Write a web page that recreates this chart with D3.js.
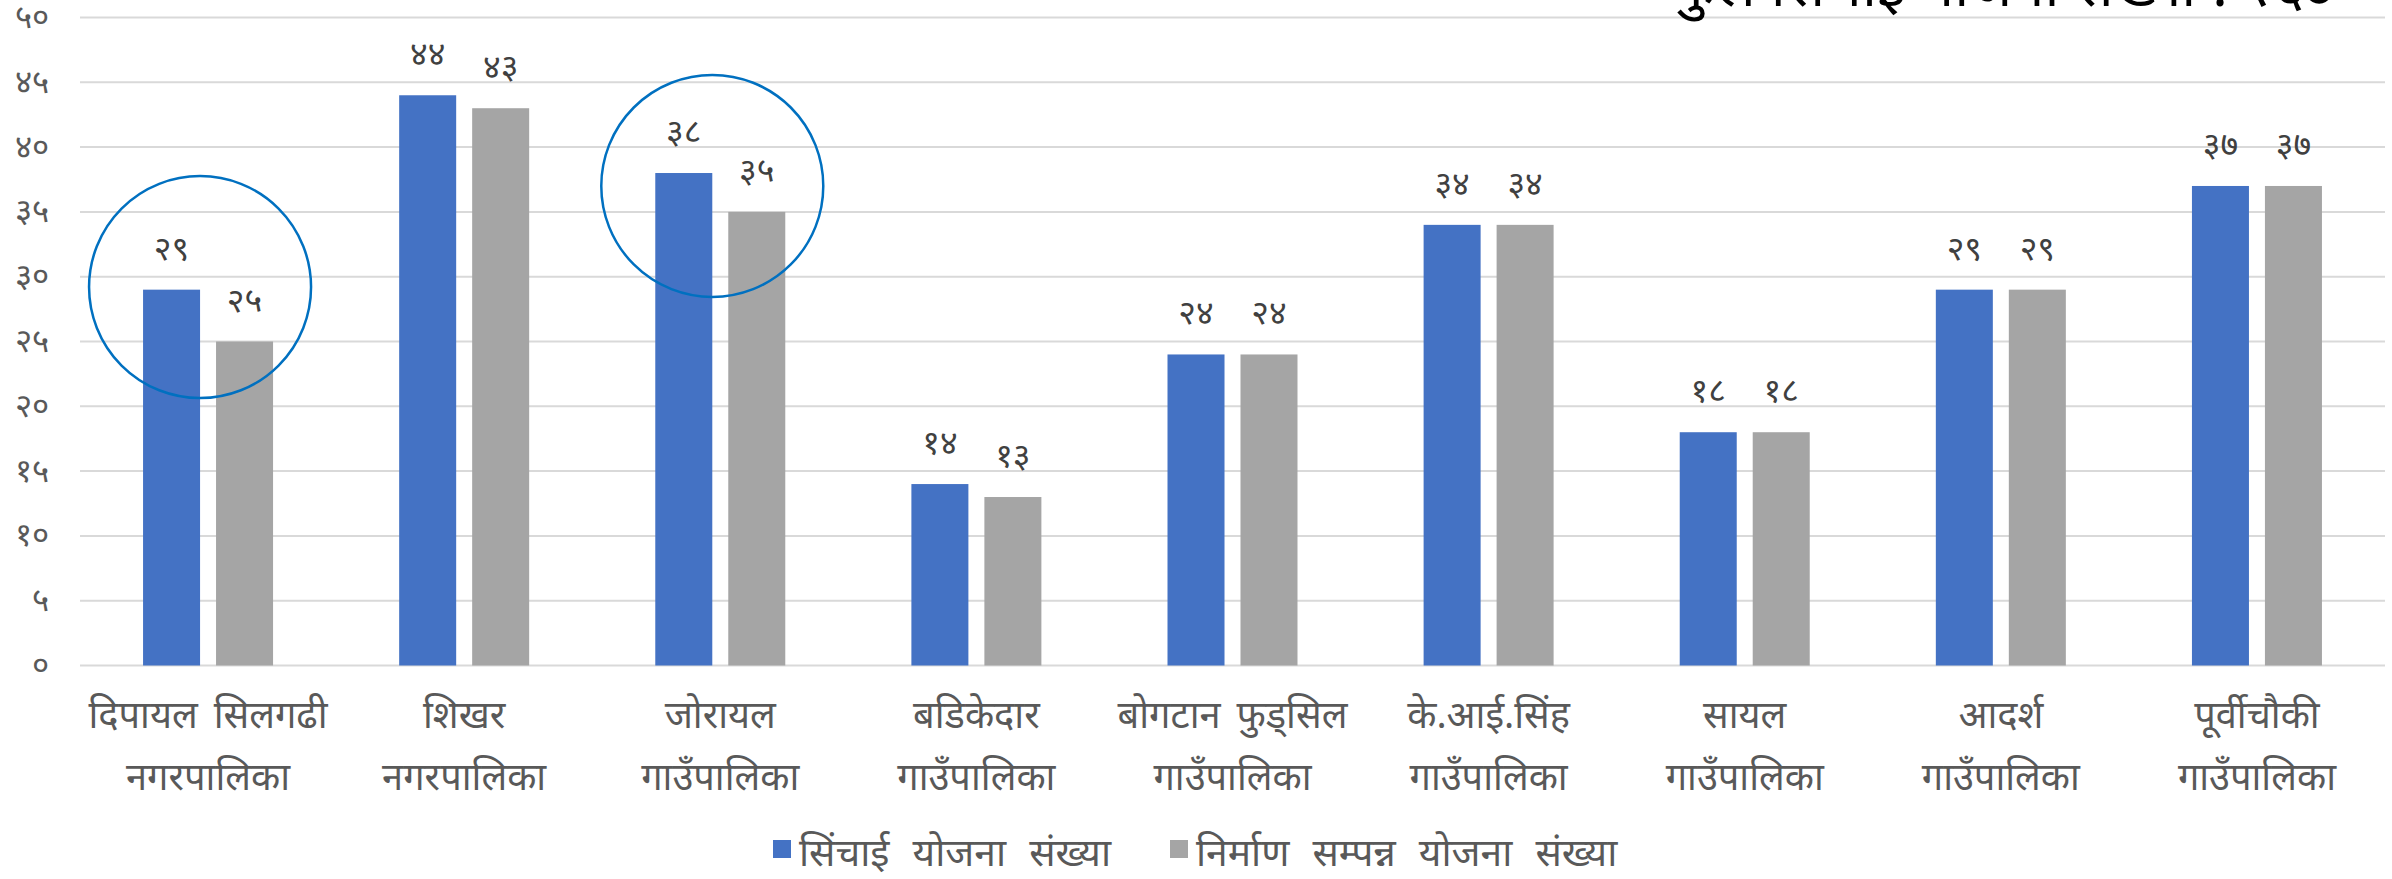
<!DOCTYPE html>
<html>
<head>
<meta charset="utf-8">
<script src="https://cdn.jsdelivr.net/npm/d3@7"></script>
<style>
  html, body { margin: 0; padding: 0; background: #fff; }
  svg { display: block; font-family: "Noto Sans Devanagari", "Noto Sans", "Lohit Devanagari", sans-serif; }
</style>
</head>
<body>
<svg id="chart" width="2392" height="879"></svg>
<script>
// ---- data ----
const categories = [
  ["दिपायल सिलगढी", "नगरपालिका"],
  ["शिखर", "नगरपालिका"],
  ["जोरायल", "गाउँपालिका"],
  ["बडिकेदार", "गाउँपालिका"],
  ["बोगटान फुड्सिल", "गाउँपालिका"],
  ["के.आई.सिंह", "गाउँपालिका"],
  ["सायल", "गाउँपालिका"],
  ["आदर्श", "गाउँपालिका"],
  ["पूर्वीचौकी", "गाउँपालिका"]
];
const seriesNames = ["सिंचाई योजना संख्या", "निर्माण सम्पन्न योजना संख्या"];
const irrigation = [29, 44, 38, 14, 24, 34, 18, 29, 37];
const completed  = [25, 43, 35, 13, 24, 34, 18, 29, 37];
const yTicks = [0, 5, 10, 15, 20, 25, 30, 35, 40, 45, 50];
const seriesColors = ["#4472C4", "#A5A5A5"];
// highlighted groups (category index, centre value)
const highlightIdx = [0, 2];
const highlightVal = [29.2, 37];
const titleText = "कुल सिंचाई योजना संख्या : २६७";

// ---- helpers ----
const devDigits = "०१२३४५६७८९";
const toDev = n => String(n).replace(/[0-9]/g, d => devDigits[+d]);

const svg = d3.select("#chart");
const margin = { left: 80, right: 7, top: 17.5, bottom: 879 - 665.5 };
const W = 2392, H = 879;

const x = d3.scaleBand()
  .domain(d3.range(categories.length))
  .range([margin.left, W - margin.right])
  .padding(0);

const sub = d3.scaleBand()
  .domain([0, 1])
  .range([-65, 65])
  .paddingInner(0.219)
  .paddingOuter(0);

const y = d3.scaleLinear().domain([0, 50]).range([H - margin.bottom, margin.top]);

// gridlines
svg.append("g")
  .selectAll("line")
  .data(yTicks)
  .join("line")
  .attr("x1", margin.left)
  .attr("x2", W - margin.right)
  .attr("y1", d => y(d))
  .attr("y2", d => y(d))
  .attr("stroke", "#d9d9d9")
  .attr("stroke-width", 2);

// y axis labels
const yAxis = d3.axisLeft(y).tickValues(yTicks).tickFormat(toDev).tickSize(0).tickPadding(0);
const yg = svg.append("g").attr("transform", `translate(49,0)`).call(yAxis);
yg.select(".domain").remove();
yg.selectAll("text")
  .attr("fill", "#595959")
  .style("font-size", "33px")
  .attr("dy", "0.3em");

// bars
const seriesData = [irrigation, completed];
seriesData.forEach((vals, s) => {
  svg.append("g").selectAll("rect")
    .data(vals)
    .join("rect")
    .attr("x", (d, i) => x(i) + x.bandwidth() / 2 + sub(s))
    .attr("y", d => y(d))
    .attr("width", sub.bandwidth())
    .attr("height", d => y(0) - y(d))
    .attr("fill", seriesColors[s]);

  svg.append("g").selectAll("text")
    .data(vals)
    .join("text")
    .attr("x", (d, i) => x(i) + x.bandwidth() / 2 + sub(s) + sub.bandwidth() / 2)
    .attr("y", d => y(d) - 30)
    .attr("text-anchor", "middle")
    .attr("fill", "#404040")
    .style("font-size", "34px")
    .text(d => toDev(d));
});

// x axis labels
const xl = svg.append("g");
categories.forEach((lines, i) => {
  const t = xl.append("text")
    .attr("x", x(i) + x.bandwidth() / 2)
    .attr("text-anchor", "middle")
    .attr("fill", "#595959")
    .style("font-size", "38px")
    .style("word-spacing", "6px");
  lines.forEach((ln, k) => {
    t.append("tspan")
      .attr("x", x(i) + x.bandwidth() / 2)
      .attr("y", 728 + k * 62)
      .text(ln);
  });
});

// highlight circles
svg.append("g").selectAll("circle")
  .data(highlightIdx)
  .join("circle")
  .attr("cx", (d, k) => x(d) + x.bandwidth() / 2 - 8)
  .attr("cy", (d, k) => y(highlightVal[k]))
  .attr("r", 111)
  .attr("fill", "none")
  .attr("stroke", "#0070C0")
  .attr("stroke-width", 2.5);

// legend
const legendX = [773, 1170];
const lg = svg.append("g");
seriesNames.forEach((nm, s) => {
  lg.append("rect")
    .attr("x", legendX[s])
    .attr("y", 840)
    .attr("width", 18)
    .attr("height", 18)
    .attr("fill", seriesColors[s]);
  lg.append("text")
    .attr("x", legendX[s] + 26)
    .attr("y", 866)
    .attr("fill", "#595959")
    .style("font-size", "39px")
    .style("word-spacing", "13px")
    .text(nm);
});

// title (mostly cropped at top)
svg.append("text")
  .attr("x", 2334)
  .attr("y", 6)
  .attr("text-anchor", "end")
  .attr("fill", "#000")
  .style("font-size", "58px")
  .text(titleText);
</script>
</body>
</html>
